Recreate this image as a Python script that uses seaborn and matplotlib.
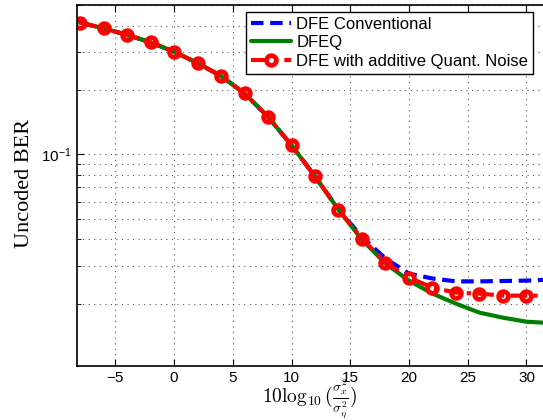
import matplotlib
matplotlib.use("Agg")
import matplotlib.pyplot as plt
import seaborn as sns
from matplotlib.ticker import NullFormatter

# SNR grid (dB) and uncoded BER
snr_db = [-8, -6, -4, -2, 0, 2, 4, 6, 8, 10, 12, 14, 16, 18, 20, 22, 24, 26, 28, 30, 32]
ber_conv = [0.4134, 0.389, 0.362, 0.3345, 0.302, 0.2674, 0.2324, 0.1928, 0.1497, 0.1102,
            0.0788, 0.0552, 0.0410, 0.0325, 0.0276, 0.0262, 0.0254, 0.0254, 0.0255, 0.0256, 0.0259]
ber_dfeq = [0.4134, 0.389, 0.362, 0.3345, 0.302, 0.2674, 0.2324, 0.1928, 0.1497, 0.1102,
            0.0788, 0.0550, 0.0398, 0.0308, 0.0256, 0.02225, 0.01998, 0.01813, 0.01717, 0.01644, 0.0162]
ber_quant = [0.4134, 0.389, 0.362, 0.3345, 0.302, 0.2674, 0.2324, 0.1928, 0.1497, 0.1102,
             0.0788, 0.0550, 0.0403, 0.0311, 0.02646, 0.02374, 0.02249, 0.02225, 0.02178, 0.02178, 0.02178]

sns.set_style("ticks")
plt.rcParams["font.family"] = ["Liberation Sans", "DejaVu Sans"]
plt.rcParams["mathtext.fontset"] = "cm"
plt.rcParams["text.color"] = "black"
plt.rcParams["xtick.color"] = "black"
plt.rcParams["ytick.color"] = "black"
plt.rcParams["axes.labelcolor"] = "black"
plt.rcParams["axes.edgecolor"] = "black"

fig = plt.figure(figsize=(5.43, 4.20), dpi=100)
ax = fig.add_axes([0.1418, 0.1286, 0.871, 0.8595])

sns.lineplot(x=snr_db, y=ber_conv, ax=ax, color="blue", lw=3,
             linestyle=(0, (3, 1.6)), label="DFE Conventional")
sns.lineplot(x=snr_db, y=ber_dfeq, ax=ax, color=(0, 0.5, 0), lw=3, label="DFEQ")
sns.lineplot(x=snr_db, y=ber_quant, ax=ax, color="red", lw=3,
             linestyle=(0, (4, 1.5, 1, 1.5)), marker="o", markersize=7,
             markerfacecolor="none", markeredgecolor="red", markeredgewidth=3.4,
             label="DFE with additive Quant. Noise")

ax.set_yscale("log")
ax.set_xlim(-8.26, 32)
ax.set_ylim(0.0102, 0.5)
ax.set_xticks([-5, 0, 5, 10, 15, 20, 25, 30])
ax.yaxis.set_minor_formatter(NullFormatter())

grid_kw = dict(linestyle=(0, (1, 4)), color="0.35", lw=0.8)
ax.xaxis.grid(True, which="major", **grid_kw)
ax.yaxis.grid(True, which="both", **grid_kw)
ax.tick_params(which="both", direction="in", top=True, right=True, labelsize=11)
ax.tick_params(which="major", length=5)
ax.tick_params(which="minor", length=3)
for s in ax.spines.values():
    s.set_linewidth(1.2)

ax.set_ylabel("Uncoded BER", family="Liberation Serif", fontsize=16)
ax.yaxis.set_label_coords(-0.091, 0.507)
ax.set_xlabel(r"$10\log_{10}(\frac{\sigma^2_x}{\sigma^2_\eta})$", fontsize=14)
ax.xaxis.set_label_coords(0.4926, -0.03)

leg = ax.legend(loc="upper right", bbox_to_anchor=(533 / 543, 1 - 12 / 420),
                bbox_transform=fig.transFigure, borderaxespad=0, fancybox=False,
                edgecolor="black", framealpha=1, fontsize=12, handlelength=2.4,
                handletextpad=0.3, labelspacing=0.2, borderpad=0.3)
leg.get_frame().set_linewidth(1.0)

fig.savefig("out.png", dpi=100)
